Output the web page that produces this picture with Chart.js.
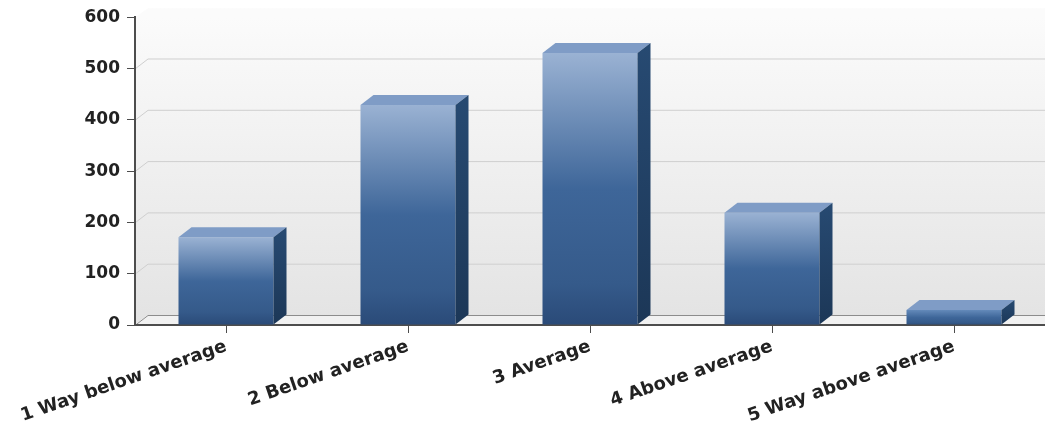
<!DOCTYPE html>
<html>
<head>
<meta charset="utf-8">
<script src="https://cdn.jsdelivr.net/npm/chart.js@4"></script>
<style>
    html, body { margin: 0; padding: 0; background: #fff; }
    #wrap { width: 1045px; height: 433px; }
    #chart1 { filter: blur(0.5px); }
</style>
</head>
<body>
<div id="wrap"><canvas id="chart1" width="1045" height="433"></canvas></div>
<script>
// Chart data
const categories = ['1 Way below average', '2 Below average', '3 Average', '4 Above average', '5 Way above average'];
const ratingCounts = [171, 429, 530, 219, 29];
const yTicks = [0, 100, 200, 300, 400, 500, 600];

// Depth of the fake 3D box
const depthX = 13;
const depthY = 10;

// Back wall, side wall, floor and the shifted grid lines
const wallPlugin = {
    id: 'wall',
    beforeDraw(chart) {
        const { ctx, chartArea: a, scales: { y } } = chart;
        ctx.save();

        const back = ctx.createLinearGradient(0, a.top, 0, a.bottom);
        back.addColorStop(0, '#fbfbfb');
        back.addColorStop(1, '#e3e3e3');
        ctx.fillStyle = back;
        ctx.fillRect(a.left + depthX, a.top - depthY + 1, a.right - a.left, a.bottom - a.top);

        ctx.fillStyle = back;
        ctx.beginPath();
        ctx.moveTo(a.left, a.top);
        ctx.lineTo(a.left + depthX, a.top - depthY + 1);
        ctx.lineTo(a.left + depthX, a.bottom - depthY);
        ctx.lineTo(a.left, a.bottom);
        ctx.closePath();
        ctx.fill();

        ctx.fillStyle = '#f1f1f1';
        ctx.beginPath();
        ctx.moveTo(a.left, a.bottom);
        ctx.lineTo(a.left + depthX, a.bottom - depthY);
        ctx.lineTo(a.right, a.bottom - depthY);
        ctx.lineTo(a.right, a.bottom);
        ctx.closePath();
        ctx.fill();

        yTicks.forEach((t) => {
            if (t === 600) return;
            const py = y.getPixelForValue(t);
            ctx.strokeStyle = t === 0 ? '#8c8c8c' : '#cfcfcf';
            ctx.lineWidth = 1;
            ctx.beginPath();
            ctx.moveTo(a.left, py + 0.5);
            ctx.lineTo(a.left + depthX, py - depthY + 0.5);
            ctx.lineTo(a.right, py - depthY + 0.5);
            ctx.stroke();
        });
        ctx.restore();
    },
    afterDatasetsDraw(chart) {
        const { ctx } = chart;
        ctx.save();
        chart.getDatasetMeta(0).data.forEach((bar) => {
            const left = bar.x - bar.width / 2;
            const right = bar.x + bar.width / 2;

            // Top face
            ctx.fillStyle = '#7f9cc6';
            ctx.beginPath();
            ctx.moveTo(left, bar.y);
            ctx.lineTo(left + depthX, bar.y - depthY);
            ctx.lineTo(right + depthX, bar.y - depthY);
            ctx.lineTo(right, bar.y);
            ctx.closePath();
            ctx.fill();

            // Side face
            const side = ctx.createLinearGradient(0, bar.y - depthY, 0, bar.base);
            side.addColorStop(0, '#274a72');
            side.addColorStop(1, '#1c3757');
            ctx.fillStyle = side;
            ctx.beginPath();
            ctx.moveTo(right, bar.y);
            ctx.lineTo(right + depthX, bar.y - depthY);
            ctx.lineTo(right + depthX, bar.base - depthY);
            ctx.lineTo(right, bar.base);
            ctx.closePath();
            ctx.fill();
        });
        ctx.restore();
    }
};

// Front face gradient, one per bar
const frontGradient = (context) => {
    const { chart, raw } = context;
    const y = chart.scales.y;
    if (!y || raw === undefined) return '#3d6598';
    const top = y.getPixelForValue(raw);
    const bottom = y.getPixelForValue(0);
    if (!Number.isFinite(top) || !Number.isFinite(bottom)) return '#3d6598';
    const g = chart.ctx.createLinearGradient(0, top, 0, bottom);
    g.addColorStop(0, raw < 60 ? '#6389b9' : '#9ab2d3');
    g.addColorStop(0.5, '#3e6699');
    g.addColorStop(0.85, '#355a8a');
    g.addColorStop(1, '#2a4a78');
    return g;
};

const ctx1 = document.getElementById('chart1').getContext('2d');
new Chart(ctx1, {
    type: 'bar',
    data: {
        labels: categories,
        datasets: [{
            data: ratingCounts,
            backgroundColor: frontGradient,
            borderWidth: 0,
            categoryPercentage: 1,
            barPercentage: 0.522
        }]
    },
    options: {
        responsive: false,
        animation: false,
        layout: { padding: { top: 14, right: 0, left: 0, bottom: 0 } },
        plugins: { legend: { display: false }, tooltip: { enabled: false } },
        scales: {
            x: {
                afterFit: (scale) => { scale.height = 108; },
                border: { color: '#4d4d4d', width: 2 },
                grid: { offset: false, drawOnChartArea: false, tickLength: 8, color: '#4d4d4d' },
                ticks: {
                    color: '#222222',
                    font: { family: '"DejaVu Sans"', size: 18, weight: 'bold' },
                    minRotation: 19,
                    maxRotation: 19,
                    padding: 3,
                    autoSkip: false
                }
            },
            y: {
                min: 0,
                max: 600,
                afterFit: (scale) => { scale.width = 135; },
                afterBuildTicks: (scale) => { scale.ticks = yTicks.map((value) => ({ value })); },
                border: { color: '#4d4d4d', width: 2 },
                grid: { drawOnChartArea: false, tickLength: 8, color: '#4d4d4d' },
                ticks: {
                    color: '#222222',
                    font: { family: '"DejaVu Sans"', size: 17, weight: 'bold' },
                    padding: 7
                }
            }
        }
    },
    plugins: [wallPlugin]
});
</script>
</body>
</html>
